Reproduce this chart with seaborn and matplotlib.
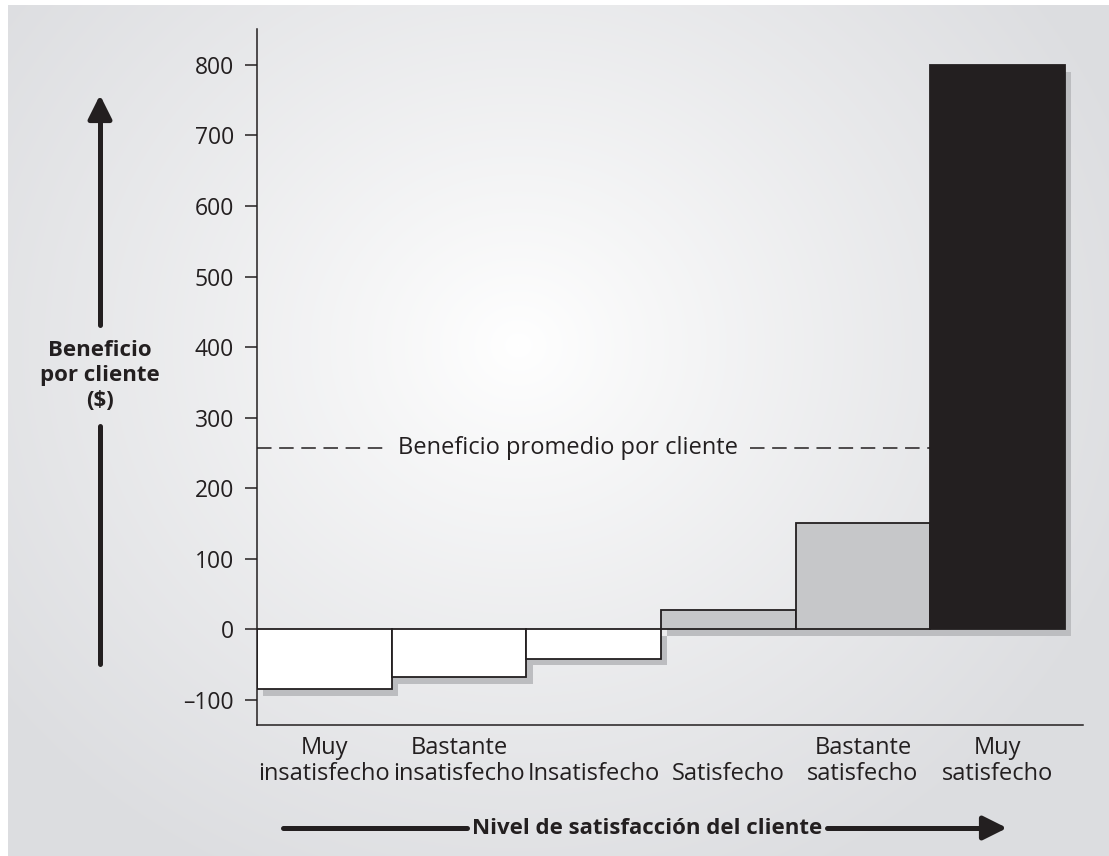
import numpy as np
import pandas as pd
import seaborn as sns
from matplotlib import pyplot as plt
from matplotlib import patheffects as pe

# data
categories = ['Muy insatisfecho', 'Bastante insatisfecho', 'Insatisfecho',
              'Satisfecho', 'Bastante satisfecho', 'Muy satisfecho']
tick_labels = ['Muy\ninsatisfecho', 'Bastante\ninsatisfecho', '\nInsatisfecho',
               '\nSatisfecho', 'Bastante\nsatisfecho', 'Muy\nsatisfecho']
profit = [-85, -68, -42, 27, 150, 800]
average_profit = 257
y_ticks = [-100, 0, 100, 200, 300, 400, 500, 600, 700, 800]
y_tick_labels = ['–100', '0', '100', '200', '300', '400', '500', '600', '700', '800']
bar_colors = ['#ffffff', '#ffffff', '#ffffff', '#c6c7c9', '#c6c7c9', '#231f20']

sns.set_theme(style='white')
plt.rcParams['font.family'] = ['Open Sans', 'DejaVu Sans']
ink = '#231f20'

W, H = 1109, 856
fig = plt.figure(figsize=(W / 100, H / 100), dpi=100)
fig.patch.set_facecolor('white')


def fx(px):
    return px / W


def fy(py):
    return 1 - py / H


# background: gray panel with a soft white glow in the middle
bg = fig.add_axes([8 / W, 0, 1 - 8 / W, 1 - 5 / H], zorder=-10)
yy, xx = np.mgrid[0:H - 5, 0:W - 8]
r = np.hypot((xx - 510) / 1.1, yy - 340) / 600
t = np.clip(r, 0, 1) ** 0.9
img = np.empty(r.shape + (3,))
for i, c in enumerate([220, 221, 224]):
    img[..., i] = (255 - (255 - c) * t) / 255
bg.imshow(img, aspect='auto', interpolation='bilinear')
bg.axis('off')

ax = fig.add_axes([257 / W, 131 / H, (1083 - 257) / W, (725 - 29) / H])
ax.set_facecolor('none')

df = pd.DataFrame({'nivel': categories, 'beneficio': profit})
sns.barplot(data=df, x='nivel', y='beneficio', hue='nivel', palette=bar_colors,
            legend=False, width=1, edgecolor=ink, linewidth=1.3, saturation=1, ax=ax)

for bar in ax.patches:
    bar.set_path_effects([pe.SimplePatchShadow(offset=(4.5, -4.8), shadow_rgbFace='#bcbdc0', alpha=1),
                          pe.Normal()])

ax.set_xlim(-0.5, 5.634)
ax.set_ylim(-136, 851)

# average line, broken around its label
dash = (0, (9.5, 5.0))
ax.hlines(average_profit, -0.5, 0.47, colors=ink, linestyles=dash, linewidth=1.1)
ax.hlines(average_profit, 3.16, 4.5, colors=ink, linestyles=dash, linewidth=1.1)
ax.text(1.81, average_profit, 'Beneficio promedio por cliente', ha='center', va='center',
        fontsize=17, color=ink)

ax.set_yticks(y_ticks)
ax.set_yticklabels(y_tick_labels, fontsize=16.5, color=ink)
ax.set_xticks(range(len(categories)))
ax.set_xticklabels(tick_labels, fontsize=17, color=ink, linespacing=1.12)
ax.tick_params(axis='y', length=8.5, width=1.1, color=ink, pad=8, direction='out', left=True)
ax.tick_params(axis='x', length=0, pad=8)
ax.set_xlabel('')
ax.set_ylabel('')

sns.despine(ax=ax)
for s in ['left', 'bottom']:
    ax.spines[s].set_color(ink)
    ax.spines[s].set_linewidth(1.1)

arrow = dict(arrowstyle='-|>,head_length=1.2,head_width=0.6', color=ink, lw=3.6,
             shrinkA=0, shrinkB=0)

# y label with vertical arrow
fig.text(fx(100), fy(376), 'Beneficio\npor cliente\n($)', ha='center', va='center',
         fontsize=16, fontweight='bold', color=ink, linespacing=1.25)
fig.add_artist(plt.Line2D([fx(100), fx(100)], [fy(426), fy(664)], color=ink, linewidth=3.6))
fig.add_artist(plt.Line2D([fx(100), fx(100)], [fy(325), fy(110)], color=ink, linewidth=3.6))
ax.annotate('', xy=(fx(100), fy(95)), xytext=(fx(100), fy(120)), xycoords='figure fraction',
            arrowprops=arrow)

# x label with horizontal arrow, the line broken around the text
xlab = fig.text(fx(647), fy(828), 'Nivel de satisfacción del cliente', ha='center', va='center',
                fontsize=16, fontweight='bold', color=ink)
fig.canvas.draw()
bb = xlab.get_window_extent()
fig.add_artist(plt.Line2D([fx(283), (bb.x0 - 5) / W], [fy(828), fy(828)], color=ink, linewidth=3.6))
fig.add_artist(plt.Line2D([(bb.x1 + 5) / W, fx(992)], [fy(828), fy(828)], color=ink, linewidth=3.6))
ax.annotate('', xy=(fx(1007), fy(828)), xytext=(fx(985), fy(828)), xycoords='figure fraction',
            arrowprops=arrow)

fig.savefig('out.png', dpi=100)
